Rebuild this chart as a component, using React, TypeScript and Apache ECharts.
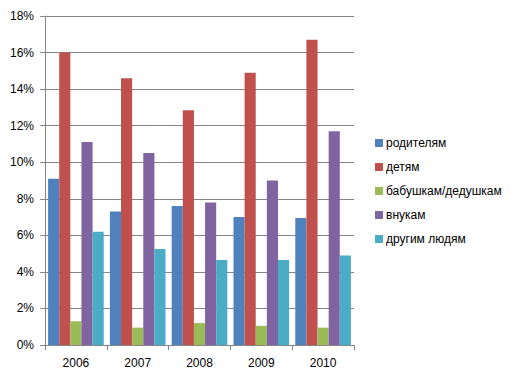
import React, { useEffect, useRef } from "react";
import * as echarts from "echarts";

const years = ["2006", "2007", "2008", "2009", "2010"];
const seriesNames = ["родителям", "детям", "бабушкам/дедушкам", "внукам", "другим людям"];
const parents = [9.1, 7.3, 7.6, 7.0, 6.95];
const children = [16.0, 14.6, 12.85, 14.9, 16.7];
const grandparents = [1.3, 0.95, 1.2, 1.05, 0.95];
const grandchildren = [11.1, 10.5, 7.8, 9.0, 11.7];
const others = [6.2, 5.25, 4.65, 4.65, 4.9];
const colors = ["#4F81BD", "#C0504D", "#9BBB59", "#8064A2", "#4BACC6"];

const FONT = "'Liberation Sans', Arial, sans-serif";

export default function App() {
  const ref = useRef<HTMLDivElement>(null);
  useEffect(() => {
    if (!ref.current) return;
    const chart = echarts.init(ref.current, null, { renderer: "svg" });
    const data = [parents, children, grandparents, grandchildren, others];
    chart.setOption({
      animation: false,
      backgroundColor: "#ffffff",
      color: colors,
      textStyle: { fontFamily: FONT },
      grid: { left: 45, right: 168, top: 16, bottom: 35, containLabel: false },
      legend: {
        orient: "vertical",
        left: 370,
        top: 131,
        icon: "rect",
        itemWidth: 8,
        itemHeight: 8,
        itemGap: 10,
        textStyle: { fontSize: 12, color: "#000", lineHeight: 14, fontFamily: FONT, padding: [0, 0, 0, -2] },
        data: seriesNames,
      },
      xAxis: {
        type: "category",
        data: years,
        axisLine: { lineStyle: { color: "#868686" } },
        axisTick: { show: true, length: 5, lineStyle: { color: "#868686" } },
        axisLabel: { color: "#000", fontSize: 12, margin: 12, fontFamily: FONT },
      },
      yAxis: {
        type: "value",
        min: 0,
        max: 18,
        interval: 2,
        axisLine: { show: true, lineStyle: { color: "#868686" } },
        axisTick: { show: true, length: 5, lineStyle: { color: "#868686" } },
        axisLabel: { color: "#000", fontSize: 12, margin: 11, formatter: "{value}%", fontFamily: FONT },
        splitLine: { lineStyle: { color: "#868686" } },
      },
      series: seriesNames.map((name, i) => ({
        name,
        type: "bar",
        data: data[i],
        barGap: "0%",
        barCategoryGap: "10%",
        itemStyle: { color: colors[i] },
      })),
    });
    return () => chart.dispose();
  }, []);
  return (
    <div
      ref={ref}
      style={{ position: "fixed", left: 0, top: 0, width: 522, height: 380 }}
    />
  );
}
